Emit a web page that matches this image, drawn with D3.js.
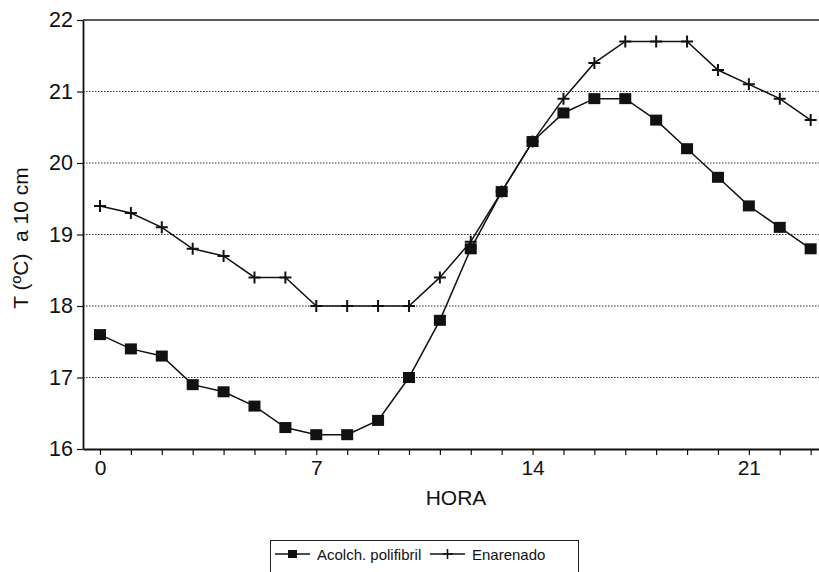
<!DOCTYPE html>
<html>
<head>
<meta charset="utf-8">
<script src="https://cdn.jsdelivr.net/npm/d3@7"></script>
<style>
  body { margin: 0; background: #fff; }
  svg { display: block; font-family: "Liberation Sans", Arial, sans-serif; }
</style>
</head>
<body>
<svg id="chart" width="819" height="572"></svg>
<script>
const hours = d3.range(0, 24);
const acolch = [17.6, 17.4, 17.3, 16.9, 16.8, 16.6, 16.3, 16.2, 16.2, 16.4, 17.0, 17.8,
                18.8, 19.6, 20.3, 20.7, 20.9, 20.9, 20.6, 20.2, 19.8, 19.4, 19.1, 18.8];
const enarenado = [19.4, 19.3, 19.1, 18.8, 18.7, 18.4, 18.4, 18.0, 18.0, 18.0, 18.0, 18.4,
                   18.9, 19.6, 20.3, 20.9, 21.4, 21.7, 21.7, 21.7, 21.3, 21.1, 20.9, 20.6];
const xTickLabels = [0, 7, 14, 21];
const yTicks = [16, 17, 18, 19, 20, 21, 22];
const seriesNames = ["Acolch. polifibril", "Enarenado"];

const svg = d3.select("#chart");
const x = d3.scaleLinear().domain([-0.55, 23.27]).range([83, 819]);
const y = d3.scaleLinear().domain([16, 22]).range([449, 20]);

// grid lines
svg.append("g").selectAll("line").data(yTicks.filter(d => d > 16 && d < 22)).join("line")
  .attr("x1", x.range()[0]).attr("x2", x.range()[1])
  .attr("y1", d => y(d)).attr("y2", d => y(d))
  .attr("stroke", "#333").attr("stroke-width", 1.1).attr("stroke-dasharray", "1.5,1.5");
// top frame line
svg.append("line").attr("x1", x.range()[0]).attr("x2", x.range()[1])
  .attr("y1", y(22)).attr("y2", y(22)).attr("stroke", "#222").attr("stroke-width", 1.6);

// axes
const xAxis = d3.axisBottom(x).tickValues(hours).tickSize(6).tickSizeOuter(0)
  .tickFormat(d => xTickLabels.includes(d) ? d : "");
const gx = svg.append("g").attr("transform", `translate(0,${y(16)})`).call(xAxis);
gx.select(".domain").attr("stroke", "#111").attr("stroke-width", 1.8);
gx.selectAll(".tick line").attr("stroke", "#111").attr("stroke-width", 1.2);
gx.selectAll(".tick text").attr("font-size", 21).attr("fill", "#111")
  .attr("font-family", "Liberation Sans, Arial, sans-serif").attr("dy", "0.8em");

const yAxis = d3.axisLeft(y).tickValues(yTicks).tickSize(6).tickSizeOuter(0).tickFormat(d3.format("d"));
const gy = svg.append("g").attr("transform", `translate(${x.range()[0]},0)`).call(yAxis);
gy.select(".domain").attr("stroke", "#111").attr("stroke-width", 1.8);
gy.selectAll(".tick line").attr("stroke", "#111").attr("stroke-width", 1.2);
gy.selectAll(".tick text").attr("font-size", 21.5).attr("fill", "#111")
  .attr("font-family", "Liberation Sans, Arial, sans-serif").attr("x", -10);

// axis titles
svg.append("text").attr("x", 456).attr("y", 505).attr("text-anchor", "middle")
  .attr("font-size", 21).attr("fill", "#111").text("HORA");
svg.append("text").attr("transform", "translate(28,238) rotate(-90)")
  .attr("text-anchor", "middle").attr("font-size", 21).attr("fill", "#111")
  .attr("xml:space", "preserve").style("white-space", "pre").text("T (ºC)  a 10 cm");

// lines
const line = d3.line().x((d, i) => x(hours[i])).y(d => y(d));
svg.append("path").datum(enarenado).attr("d", line).attr("fill", "none")
  .attr("stroke", "#111").attr("stroke-width", 1.5);
svg.append("path").datum(acolch).attr("d", line).attr("fill", "none")
  .attr("stroke", "#111").attr("stroke-width", 1.5);

// markers
const crossPath = s => `M${-s},0H${s}M0,${-s}V${s}`;
svg.append("g").selectAll("path").data(enarenado).join("path")
  .attr("transform", (d, i) => `translate(${x(hours[i])},${y(d)})`)
  .attr("d", crossPath(6)).attr("stroke", "#111").attr("stroke-width", 2).attr("fill", "none");
svg.append("g").selectAll("rect").data(acolch).join("rect")
  .attr("x", (d, i) => x(hours[i]) - 6).attr("y", d => y(d) - 5.5)
  .attr("width", 12).attr("height", 11).attr("fill", "#111");

// legend
const lg = svg.append("g");
lg.append("rect").attr("x", 270.5).attr("y", 540.5).attr("width", 308).attr("height", 40)
  .attr("fill", "none").attr("stroke", "#222").attr("stroke-width", 1);
const legendItems = [
  { name: seriesNames[0], x0: 275, type: "square" },
  { name: seriesNames[1], x0: 430, type: "cross" }
];
legendItems.forEach(it => {
  lg.append("line").attr("x1", it.x0).attr("x2", it.x0 + 35).attr("y1", 554).attr("y2", 554)
    .attr("stroke", "#111").attr("stroke-width", 1.5);
  if (it.type === "square") {
    lg.append("rect").attr("x", it.x0 + 13).attr("y", 550).attr("width", 9).attr("height", 8).attr("fill", "#111");
  } else {
    lg.append("path").attr("transform", `translate(${it.x0 + 17.5},554)`).attr("d", crossPath(5))
      .attr("stroke", "#111").attr("stroke-width", 1.6);
  }
  lg.append("text").attr("x", it.x0 + 42).attr("y", 559.5).attr("font-size", 15)
    .attr("fill", "#111").text(it.name);
});
</script>
</body>
</html>
